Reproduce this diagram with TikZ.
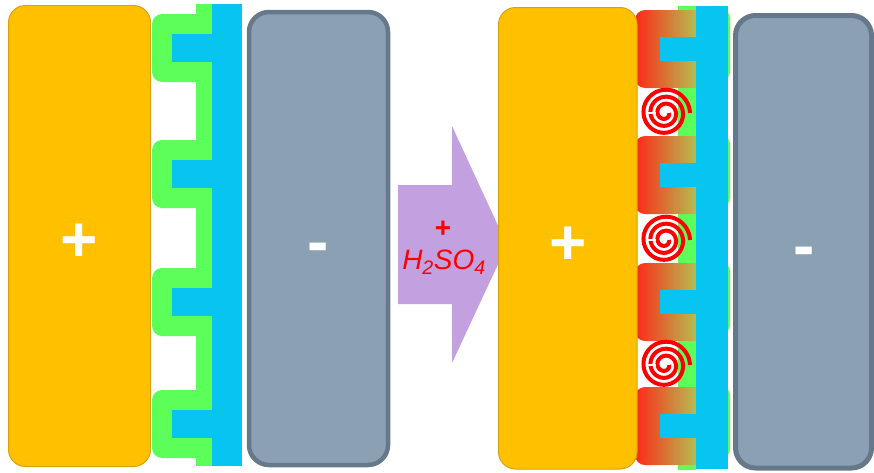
\documentclass[tikz,border=0pt]{standalone}
\usepackage{fontspec}
\setmainfont{Liberation Sans}
\usepackage{xcolor}
\usetikzlibrary{math}
\definecolor{cellorange}{RGB}{255,192,0}
\definecolor{celledge}{RGB}{214,164,10}
\definecolor{cellgrey}{RGB}{139,160,179}
\definecolor{greyedge}{RGB}{101,121,138}
\definecolor{combgreen}{RGB}{92,255,90}
\definecolor{combblue}{RGB}{8,196,240}
\definecolor{acidpurple}{RGB}{195,160,224}
\definecolor{rustred}{RGB}{255,40,24}
\definecolor{rustmid}{RGB}{232,140,60}
\definecolor{rustgreen}{RGB}{168,214,90}

\begin{document}
\begin{tikzpicture}[x=1pt, y=-1pt,
  anode/.style={draw=celledge, line width=1, fill=cellorange, rounded corners=17},
  cathode/.style={draw=greyedge, line width=4.5, fill=cellgrey, rounded corners=20},
  sign/.style={white, font=\fontsize{64}{70}\selectfont\bfseries},
  acid/.style={red, font=\fontsize{28}{32}\selectfont},
  spiral/.style={red, line width=4},
]
\tikzmath{
\toothL=68;
\toothR=78;
}
\useasboundingbox (0,0) rectangle (874,472);

% clean cell
\draw[anode] (8.5,5.5) rectangle (150.5,466.5);
\fill[combgreen] (196,4) rectangle (212,466);
\foreach \ty in {14,140,268,390}{
  \fill[combgreen, rounded corners=10] (152,\ty) rectangle (212,\ty+\toothL);
  \fill[combblue] (172,\ty+20) rectangle (212,\ty+48);
}
\fill[combblue] (212,4) rectangle (242,466);
\draw[cathode] (249,12) rectangle (388,465);
\node[sign] (plusL) at (79,243) {+};
\node[sign] (minusL) at (318,253) {-};

% acid arrow
\fill[acidpurple] (398,185) -- (452,185) -- (452,126) -- (507,245) -- (452,363) -- (452,304) -- (398,304) -- cycle;
\node[acid, font=\fontsize{28}{32}\selectfont\bfseries] (acidplus) at (443,229) {+};
\node[acid] (acidname) at (444,262) {\textit{H\textsubscript{2}SO\textsubscript{4}}};

% corroded cell
\fill[combgreen] (678,6) rectangle (696,470);
\foreach \ty in {10,136,263,387}{
  \fill[combgreen, rounded corners=8] (700,\ty) rectangle (730,\ty+70);
  \shade[left color=rustred, middle color=rustmid, right color=rustgreen, rounded corners=10]
    (635,\ty) rectangle (706,\ty+\toothR);
  \fill[combblue] (660,\ty+27) rectangle (696,\ty+51);
}
\fill[combblue] (696,6) rectangle (728,469);
\draw[anode] (498.5,7.5) rectangle (637,469);
\foreach \cy in {113,240,365}{
  \begin{scope}[shift={(665,\cy)}]
    \draw[spiral] plot[domain=0:1080, samples=240, smooth, variable=\a] (\a:{4+\a/1080*21});
    \draw[white, line width=1.2] (-17,0) -- (-9,0);
  \end{scope}
}
\draw[cathode, line width=5] (735.5,15.5) rectangle (871.5,468);
\node[sign] (plusR) at (568,246) {+};
\node[sign] (minusR) at (804,257) {-};
\end{tikzpicture}
\end{document}
